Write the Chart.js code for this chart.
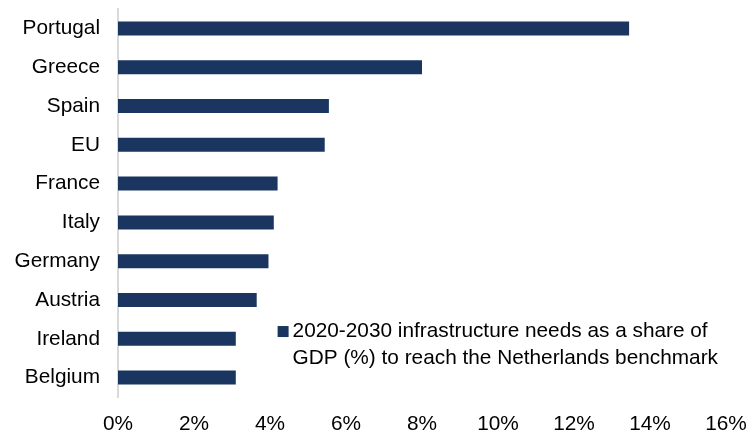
<!DOCTYPE html>
<html lang="en">
<head>
<meta charset="UTF-8">
<title>Infrastructure needs</title>
<script src="https://cdn.jsdelivr.net/npm/chart.js"></script>
<style>
    body {
        margin: 0;
        padding: 0;
        background: white;
        font-family: "Liberation Sans", Arial, sans-serif;
    }
    .chart-box {
        position: relative;
        width: 752px;
        height: 435px;
    }
</style>
</head>
<body>
<div class="chart-box">
    <canvas id="needsChart"></canvas>
</div>
<script>
    const countries = ['Portugal', 'Greece', 'Spain', 'EU', 'France', 'Italy', 'Germany', 'Austria', 'Ireland', 'Belgium'];
    const needs = [13.45, 8.0, 5.55, 5.44, 4.2, 4.1, 3.96, 3.65, 3.1, 3.1];
    const xTicks = [0, 2, 4, 6, 8, 10, 12, 14, 16];
    const seriesLabel = ['2020-2030 infrastructure needs as a share of', 'GDP (%) to reach the Netherlands benchmark'];

    const barColor = '#1a3660';
    const fontSize = 20.8;

    // legend sits inside the plot, lower right, text on two lines
    const boxLegend = {
        id: 'boxLegend',
        afterDraw(chart) {
            const ctx = chart.ctx;
            const x = chart.scales.x.getPixelForValue(4.2);
            const y = chart.scales.y.getPixelForValue(7.8);
            ctx.save();
            ctx.fillStyle = barColor;
            ctx.fillRect(x, y - 5, 11, 11);
            ctx.fillStyle = '#000';
            ctx.font = fontSize + 'px "Liberation Sans", Arial, sans-serif';
            ctx.textBaseline = 'middle';
            seriesLabel.forEach((line, i) => {
                ctx.fillText(line, x + 15, y + i * 27);
            });
            ctx.restore();
        }
    };

    const ctx = document.getElementById('needsChart').getContext('2d');
    const needsChart = new Chart(ctx, {
        type: 'bar',
        data: {
            labels: countries,
            datasets: [{
                label: seriesLabel.join(' '),
                data: needs,
                backgroundColor: barColor,
                borderWidth: 0,
                barPercentage: 0.36,
                categoryPercentage: 1.0
            }]
        },
        options: {
            indexAxis: 'y',
            responsive: true,
            maintainAspectRatio: false,
            animation: false,
            layout: {
                padding: { top: 9, right: 26, bottom: 0, left: 0 }
            },
            plugins: {
                legend: { display: false },
                tooltip: { enabled: false }
            },
            scales: {
                x: {
                    min: 0,
                    max: 16,
                    afterBuildTicks(scale) {
                        scale.ticks = xTicks.map(v => ({ value: v }));
                    },
                    afterFit(scale) {
                        scale.height = 38;
                        scale.paddingLeft = 0;
                        scale.paddingRight = 0;
                    },
                    grid: { display: false, drawTicks: false },
                    border: { display: false },
                    ticks: {
                        color: '#000',
                        padding: 15,
                        font: { size: fontSize, family: '"Liberation Sans", Arial, sans-serif' },
                        callback: v => v + '%'
                    }
                },
                y: {
                    afterFit(scale) {
                        scale.width = 118;
                        // labels sit well inside the plot, no extra room needed above/below
                        scale.paddingTop = 0;
                        scale.paddingBottom = 0;
                    },
                    grid: { display: false, drawTicks: false },
                    border: { display: true, color: '#d9d9d9', width: 2 },
                    ticks: {
                        color: '#000',
                        padding: 18,
                        font: { size: fontSize, family: '"Liberation Sans", Arial, sans-serif' }
                    }
                }
            }
        },
        plugins: [boxLegend]
    });
</script>
</body>
</html>
